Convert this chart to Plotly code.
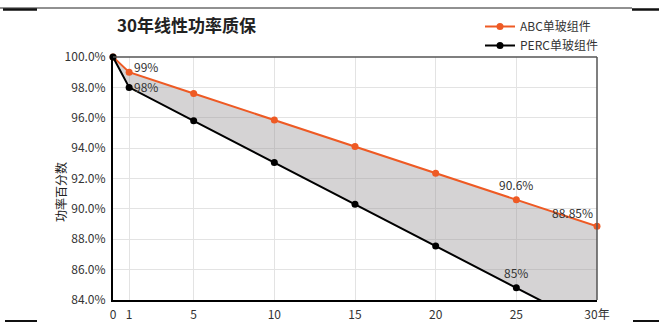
import plotly.graph_objects as go

years = [0, 1, 5, 10, 15, 20, 25, 30]
abc = [100, 99, 97.6, 95.85, 94.1, 92.35, 90.6, 88.85]
perc = [100, 98, 95.8, 93.05, 90.3, 87.55, 84.8, 82.05]
x_ticks = [0, 1, 5, 10, 15, 20, 25, 30]
x_tick_text = ["0", "1", "5", "10", "15", "20", "25", "30年"]
y_ticks = [84, 86, 88, 90, 92, 94, 96, 98, 100]
y_tick_text = [f"{v:.1f}%" for v in y_ticks]

ORANGE = "#ee5a24"
FONT = "Noto Sans CJK SC"

fig = go.Figure()
# fill between the two series
fig.add_trace(go.Scatter(x=years, y=perc, mode="lines", line=dict(width=0),
                         showlegend=False, hoverinfo="skip"))
fig.add_trace(go.Scatter(x=years, y=abc, mode="lines", line=dict(width=0),
                         fill="tonexty", fillcolor="rgba(150,146,148,0.4)",
                         showlegend=False, hoverinfo="skip"))
fig.add_trace(go.Scatter(x=years, y=abc, mode="lines+markers", name="ABC单玻组件",
                         line=dict(color=ORANGE, width=2),
                         marker=dict(color=ORANGE, size=7), cliponaxis=False))
fig.add_trace(go.Scatter(x=years, y=perc, mode="lines+markers", name="PERC单玻组件",
                         line=dict(color="#000000", width=2),
                         marker=dict(color="#000000", size=7), cliponaxis=False))

W, H = 659, 323
L, R, T, B = 113, 597, 57, 300


def px(x):
    return (x - L) / (R - L)


def py(y):
    return (B - y) / (B - T)


ann_font = dict(family=FONT, size=12, color="#333333")
annotations = [
    dict(x=1, y=abc[1], text="99%", xanchor="left", yanchor="middle", xshift=3, yshift=6),
    dict(x=1, y=perc[1], text="98%", xanchor="left", yanchor="middle", xshift=3, yshift=1),
    dict(x=25, y=abc[6], text="90.6%", xanchor="center", yanchor="bottom", yshift=5),
    dict(x=30, y=abc[7], text="88.85%", xanchor="right", yanchor="bottom", xshift=-2, yshift=3),
    dict(x=25, y=perc[6], text="85%", xanchor="center", yanchor="bottom", yshift=5),
]
for a in annotations:
    a.update(xref="x", yref="y", showarrow=False, font=ann_font)

annotations.append(dict(xref="paper", yref="paper", x=px(60), y=py(192), text="功率百分数",
                        textangle=-90, showarrow=False, font=dict(family=FONT, size=12, color="#222"),
                        xanchor="center", yanchor="middle"))
annotations.append(dict(xref="paper", yref="paper", x=px(186), y=py(25), text="<b>30年线性功率质保</b>",
                        showarrow=False, font=dict(family=FONT, size=17, color="#222"),
                        xanchor="center", yanchor="middle"))

shapes = [
    # frame top/right
    dict(type="line", xref="paper", yref="paper", x0=0, x1=1, y0=1, y1=1, line=dict(color="#555", width=1.5)),
    dict(type="line", xref="paper", yref="paper", x0=1, x1=1, y0=0, y1=1, line=dict(color="#555", width=1.5)),
    # decorative lines
    dict(type="line", xref="paper", yref="paper", x0=px(0), x1=px(632), y0=py(8), y1=py(8), line=dict(color="#222", width=1)),
    dict(type="line", xref="paper", yref="paper", x0=px(3), x1=px(37), y0=py(9.5), y1=py(9.5), line=dict(color="#111", width=2.5)),
    dict(type="line", xref="paper", yref="paper", x0=px(632), x1=px(659), y0=py(9.5), y1=py(9.5), line=dict(color="#111", width=2.5)),
    dict(type="line", xref="paper", yref="paper", x0=px(5), x1=px(37), y0=py(321), y1=py(321), line=dict(color="#111", width=2)),
    dict(type="line", xref="paper", yref="paper", x0=px(633), x1=px(659), y0=py(321), y1=py(321), line=dict(color="#111", width=2)),
]

fig.update_layout(
    width=W, height=H,
    margin=dict(l=L, r=W - R, t=T, b=H - B, pad=0, autoexpand=False),
    paper_bgcolor="white", plot_bgcolor="white",
    font=dict(family=FONT, size=12, color="#333"),
    showlegend=True,
    legend=dict(x=px(480), y=py(12), xanchor="left", yanchor="top",
                traceorder="normal",
                bgcolor="rgba(0,0,0,0)", font=dict(family=FONT, size=12, color="#333"),
                tracegroupgap=0, itemwidth=30),
    annotations=annotations,
    shapes=shapes,
)
fig.update_xaxes(range=[0, 30], tickvals=x_ticks, ticktext=x_tick_text, automargin=False,
                 showgrid=True, gridcolor="#e3e3e3", gridwidth=1,
                 showline=True, linecolor="#000", linewidth=2, ticklabelstandoff=3,
                 zeroline=False, ticks="", tickfont=dict(size=12, color="#333"))
fig.update_yaxes(range=[84, 100], tickvals=y_ticks, ticktext=y_tick_text, automargin=False,
                 showgrid=True, gridcolor="#e3e3e3", gridwidth=1,
                 showline=True, linecolor="#000", linewidth=2, ticklabelstandoff=3,
                 zeroline=False, ticks="", tickfont=dict(size=12, color="#333"))

fig.write_html("out.html", config={"displayModeBar": False},
               post_script="document.body.style.margin='0';document.body.style.overflow='hidden';")
